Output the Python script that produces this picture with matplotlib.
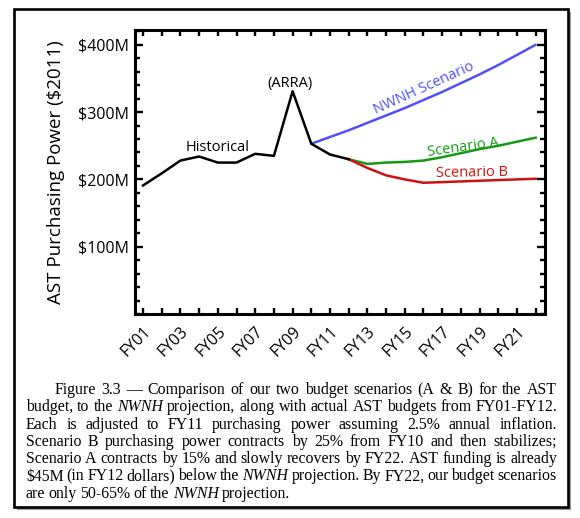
import numpy as np
import matplotlib
matplotlib.use("Agg")
import matplotlib.pyplot as plt
from matplotlib.patches import Rectangle
from matplotlib.ticker import MultipleLocator

# fiscal years as numbers (1 -> FY01)
hist_years = list(range(1, 13))
hist_vals = [191, 209, 228, 234, 225, 225, 238, 235, 331, 253, 237, 230]

nwnh_years = list(range(10, 23))
nwnh_vals = [253, 263, 273, 284, 295, 306, 318, 330, 343, 356, 370, 385, 400]

a_years = list(range(12, 23))
a_vals = [230, 223, 225, 226, 228, 233, 239, 245, 250, 256, 262]

b_years = list(range(12, 23))
b_vals = [230, 217, 206, 200, 195, 196, 197, 198, 199, 200, 201]

xtick_years = list(range(1, 23, 2))
xtick_labels = ["FY%02d" % y for y in xtick_years]
ytick_vals = [100, 200, 300, 400]
ytick_labels = ["$%dM" % v for v in ytick_vals]

caption = [
    "Figure 3.3 — Comparison of our two budget scenarios (A & B) for the AST",
    "budget, to the *NWNH* projection, along with actual AST budgets from FY01-FY12.",
    "Each is adjusted to FY11 purchasing power assuming 2.5% annual inflation.",
    "Scenario B purchasing power contracts by 25% from FY10 and then stabilizes;",
    "Scenario A contracts by 15% and slowly recovers by FY22.  AST funding is already",
    "$45M (in FY12 dollars) below the *NWNH* projection.  By FY22, our budget scenarios",
    "are only 50-65% of the *NWNH* projection.",
]

W, H = 580, 518
fig = plt.figure(figsize=(W / 100, H / 100), dpi=100)
sans = "Open Sans"

# outer frame with shadow
fig.patches.append(Rectangle((17 / W, 1 - 510 / H), 554 / W, 498 / H,
                             transform=fig.transFigure, facecolor="#9a9a9a",
                             edgecolor="none", zorder=0))
fig.patches.append(Rectangle((14 / W, 1 - 507 / H), 554 / W, 498 / H,
                             transform=fig.transFigure, facecolor="white",
                             edgecolor="black", linewidth=1.9, zorder=1))

ax = fig.add_axes([135 / W, 1 - 314 / H, 410 / W, 284 / H])
ax.set_zorder(2)

ax.plot(nwnh_years, nwnh_vals, color="#5050f8", lw=1.8, solid_capstyle="round")
ax.plot(a_years, a_vals, color="#159a15", lw=1.8)
ax.plot(b_years, b_vals, color="#cc1111", lw=1.8)
ax.plot(hist_years, hist_vals, color="black", lw=1.8)

ax.set_xlim(0.57, 22.5)
ax.set_ylim(0, 422)

ax.set_xticks(xtick_years)
ax.set_xticklabels(xtick_labels, rotation=45, ha="right", va="top",
                   rotation_mode="anchor", fontfamily=sans, fontsize=11.5)
ax.xaxis.set_minor_locator(MultipleLocator(1))
ax.set_yticks(ytick_vals)
ax.set_yticklabels(ytick_labels, fontfamily=sans, fontsize=11.5)
ax.yaxis.set_minor_locator(MultipleLocator(20))

ax.tick_params(which="both", direction="in", top=True, right=True, width=1.7)
ax.tick_params(axis="x", which="both", length=4.5, pad=7)
ax.tick_params(axis="y", which="major", length=6, pad=4)
ax.tick_params(axis="y", which="minor", length=3.5)
for s in ax.spines.values():
    s.set_linewidth(2.2)

ax.set_ylabel("AST Purchasing Power ($2011)", fontfamily=sans, fontsize=13.5,
              labelpad=10)

ax.text(5.0, 247, "Historical", fontfamily=sans, fontsize=10.5,
        ha="center", va="center")
ax.text(8.86, 342, "(ARRA)", fontfamily=sans, fontsize=10.5,
        ha="center", va="center")
ax.text(16.03, 335, "NWNH Scenario", fontfamily=sans, fontsize=10.5,
        color="#5050f8", ha="center", va="center", rotation=24.5)
ax.text(18.1, 247, "Scenario A", fontfamily=sans, fontsize=10.5,
        color="#159a15", ha="center", va="center", rotation=8)
ax.text(18.6, 209, "Scenario B", fontfamily=sans, fontsize=10.5,
        color="#cc1111", ha="center", va="center", rotation=1)

# justified caption, word by word
renderer = fig.canvas.get_renderer()
serif = "Liberation Serif"
csize = 11.4
left, right = 26, 557
line_y = [390, 407.3, 424.6, 441.9, 459.2, 476.5, 493.8]
for i, line in enumerate(caption):
    words = line.split()
    objs = []
    for w in words:
        style = "italic" if "*" in w else "normal"
        t = fig.text(0, 0, w.replace("*", ""), fontfamily=serif, fontsize=csize,
                     fontstyle=style, va="center", ha="left", zorder=3)
        objs.append(t)
    widths = [t.get_window_extent(renderer).width for t in objs]
    x0 = left + (29 if i == 0 else 0)
    if i < len(caption) - 1:
        gap = (right - x0 - sum(widths)) / (len(words) - 1)
    else:
        gap = 3.2
    x = x0
    for t, w in zip(objs, widths):
        t.set_position((x / W, 1 - line_y[i] / H))
        x += w + gap

fig.savefig("out.png", dpi=100)
